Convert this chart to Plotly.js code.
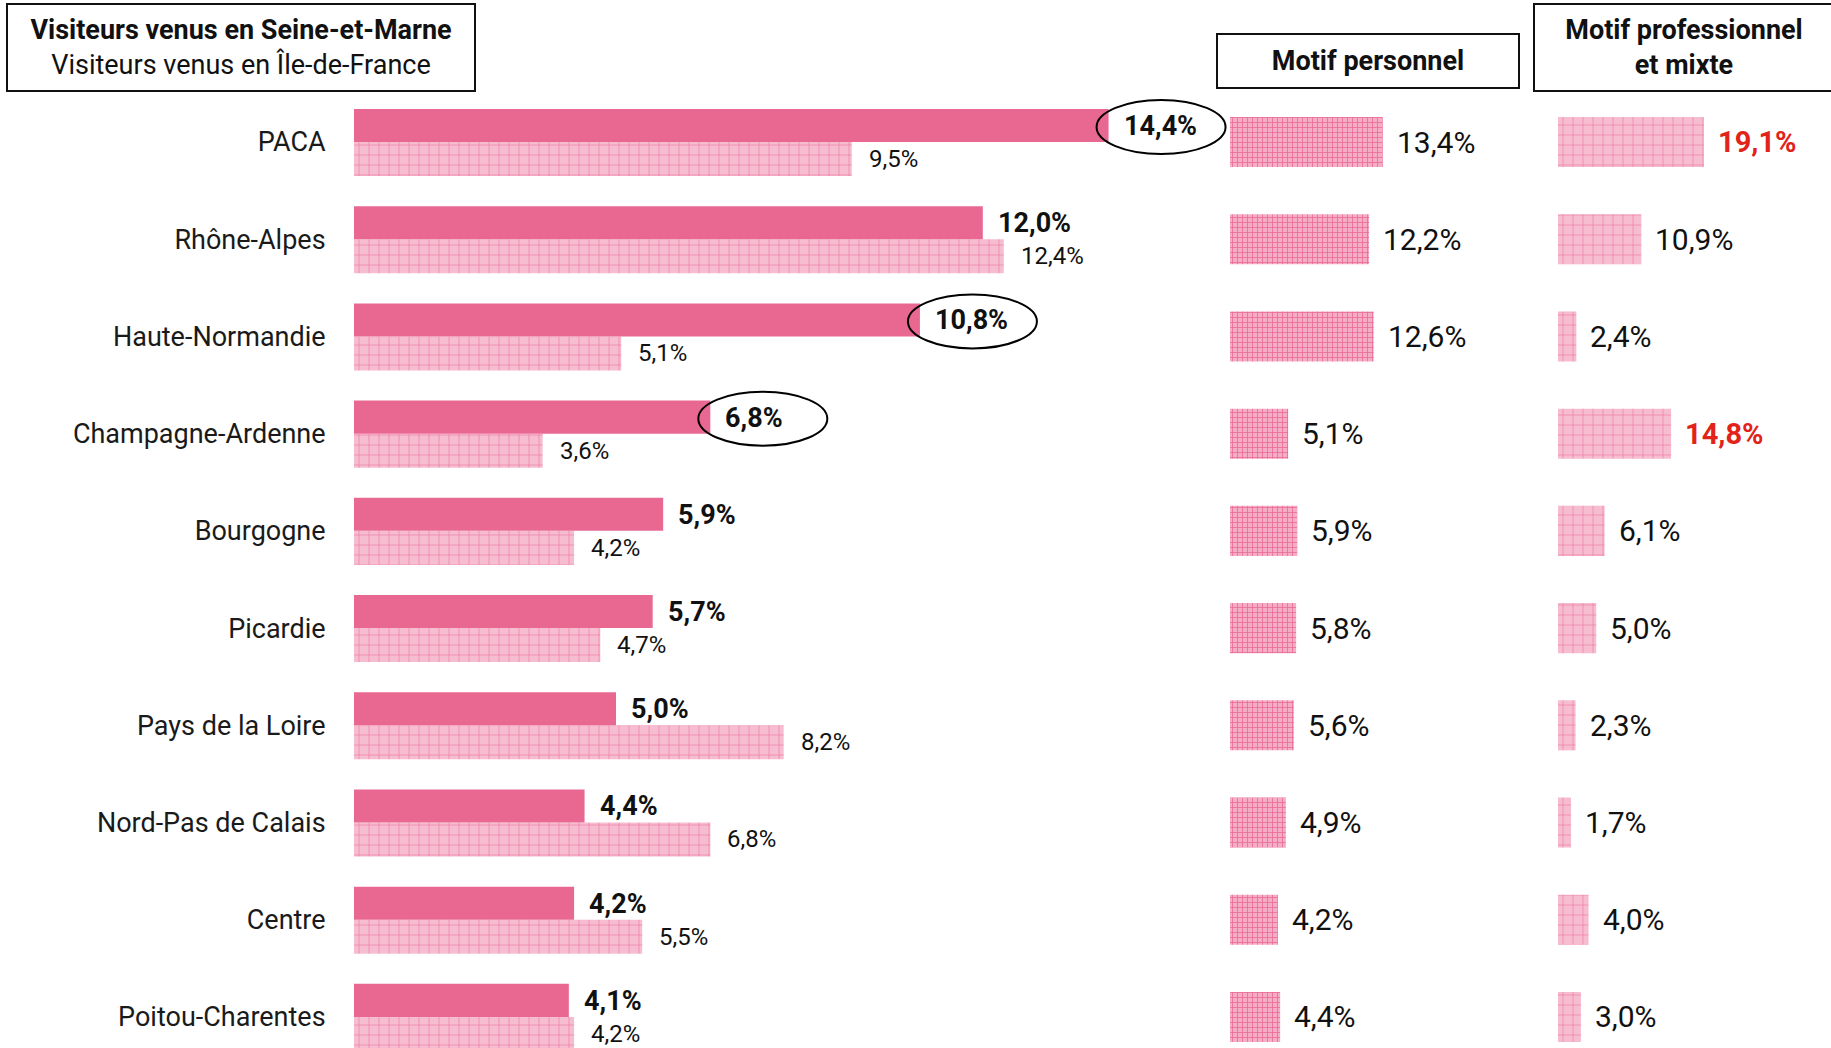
<!DOCTYPE html>
<html>
<head>
<meta charset="utf-8">
<script src="https://cdn.plot.ly/plotly-3.0.1.min.js"></script>
<style>
  html, body { margin: 0; padding: 0; background: #fff; }
  #myDiv { width: 1831px; height: 1048px; }
</style>
</head>
<body>
<div id="myDiv"></div>
<script>
// regions, top to bottom
var regions = ['PACA', 'Rhône-Alpes', 'Haute-Normandie', 'Champagne-Ardenne', 'Bourgogne',
  'Picardie', 'Pays de la Loire', 'Nord-Pas de Calais', 'Centre', 'Poitou-Charentes'];

// share of visitors (%)
var seineEtMarne = [14.4, 12.0, 10.8, 6.8, 5.9, 5.7, 5.0, 4.4, 4.2, 4.1];
var ileDeFrance = [9.5, 12.4, 5.1, 3.6, 4.2, 4.7, 8.2, 6.8, 5.5, 4.2];
var motifPersonnel = [13.4, 12.2, 12.6, 5.1, 5.9, 5.8, 5.6, 4.9, 4.2, 4.4];
var motifPro = [19.1, 10.9, 2.4, 14.8, 6.1, 5.0, 2.3, 1.7, 4.0, 3.0];

// regions that get an ellipse / a red label
var circled = ['PACA', 'Haute-Normandie', 'Champagne-Ardenne'];
var redPro = ['PACA', 'Champagne-Ardenne'];

var pink = 'rgb(232, 104, 146)';
var lightPink = 'rgb(246, 188, 208)';
var fontFam = 'Roboto, "DejaVu Sans", sans-serif';

function pct(v) {
  return v.toFixed(1).replace('.', ',') + '%';
}

// Seine-et-Marne, solid bar on top half of the row
var traceSM = {
  type: 'bar', orientation: 'h',
  x: seineEtMarne, y: regions,
  xaxis: 'x', yaxis: 'y',
  offset: -0.34, width: 0.34,
  marker: { color: pink, line: { width: 0 } },
  hoverinfo: 'skip'
};

// Ile-de-France, grid pattern on bottom half
var traceIDF = {
  type: 'bar', orientation: 'h',
  x: ileDeFrance, y: regions,
  xaxis: 'x', yaxis: 'y',
  offset: 0, width: 0.35,
  marker: {
    color: lightPink,
    line: { width: 0 },
    pattern: { shape: '+', bgcolor: lightPink, fgcolor: 'rgb(236, 120, 160)', size: 10, solidity: 0.12 }
  },
  hoverinfo: 'skip'
};

var tracePerso = {
  type: 'bar', orientation: 'h',
  x: motifPersonnel, y: regions,
  xaxis: 'x2', yaxis: 'y',
  offset: -0.257, width: 0.515,
  marker: {
    color: 'rgb(243, 160, 190)',
    line: { width: 0 },
    pattern: { shape: '+', bgcolor: 'rgb(245, 172, 198)', fgcolor: 'rgb(234, 108, 150)', size: 5, solidity: 0.3 }
  },
  hoverinfo: 'skip'
};

var tracePro = {
  type: 'bar', orientation: 'h',
  x: motifPro, y: regions,
  xaxis: 'x3', yaxis: 'y',
  offset: -0.257, width: 0.515,
  marker: {
    color: lightPink,
    line: { width: 0 },
    pattern: { shape: '+', bgcolor: lightPink, fgcolor: 'rgb(236, 120, 160)', size: 10, solidity: 0.12 }
  },
  hoverinfo: 'skip'
};

var annotations = [];
var shapes = [];

regions.forEach(function(r, i) {
  annotations.push({
    x: seineEtMarne[i], y: r, xref: 'x', yref: 'y',
    text: '<b>' + pct(seineEtMarne[i]) + '</b>',
    showarrow: false, xanchor: 'left', yanchor: 'middle',
    xshift: 13, yshift: 16,
    font: { family: fontFam, size: 27, color: '#111' }
  });
  annotations.push({
    x: ileDeFrance[i], y: r, xref: 'x', yref: 'y',
    text: pct(ileDeFrance[i]),
    showarrow: false, xanchor: 'left', yanchor: 'middle',
    xshift: 15, yshift: -17,
    font: { family: fontFam, size: 24, color: '#111' }
  });
  annotations.push({
    x: motifPersonnel[i], y: r, xref: 'x2', yref: 'y',
    text: pct(motifPersonnel[i]),
    showarrow: false, xanchor: 'left', yanchor: 'middle',
    xshift: 12, yshift: 0,
    font: { family: fontFam, size: 30, color: '#111' }
  });
  var red = redPro.indexOf(r) >= 0;
  annotations.push({
    x: motifPro[i], y: r, xref: 'x3', yref: 'y',
    text: red ? '<b>' + pct(motifPro[i]) + '</b>' : pct(motifPro[i]),
    showarrow: false, xanchor: 'left', yanchor: 'middle',
    xshift: 12, yshift: 0,
    font: { family: fontFam, size: red ? 29 : 30, color: red ? 'rgb(226, 35, 26)' : '#111' }
  });

  if (circled.indexOf(r) >= 0) {
    shapes.push({
      type: 'circle', xref: 'x', yref: 'y',
      xsizemode: 'pixel', ysizemode: 'pixel',
      xanchor: seineEtMarne[i], yanchor: r,
      x0: -12, x1: 117, y0: -12, y1: 42,
      line: { color: '#000', width: 2 },
      fillcolor: 'rgba(0,0,0,0)'
    });
  }
});

// header boxes
var W = 1831, H = 1048;
annotations.push({
  xref: 'paper', yref: 'paper', x: 241 / W, y: 1 - 47 / H,
  xanchor: 'center', yanchor: 'middle',
  text: '<b>Visiteurs venus en Seine-et-Marne</b><br>Visiteurs venus en Île-de-France',
  showarrow: false, width: 466, height: 85, borderpad: 0,
  bordercolor: '#111', borderwidth: 2, bgcolor: '#fff',
  font: { family: fontFam, size: 27, color: '#111' }
});
annotations.push({
  xref: 'paper', yref: 'paper', x: 1368 / W, y: 1 - 61 / H,
  xanchor: 'center', yanchor: 'middle',
  text: '<b>Motif personnel</b>',
  showarrow: false, width: 300, height: 52, borderpad: 0,
  bordercolor: '#111', borderwidth: 2, bgcolor: '#fff',
  font: { family: fontFam, size: 27, color: '#111' }
});
annotations.push({
  xref: 'paper', yref: 'paper', x: 1684 / W, y: 1 - 47 / H,
  xanchor: 'center', yanchor: 'middle',
  text: '<b>Motif professionnel<br>et mixte</b>',
  showarrow: false, width: 298, height: 85, borderpad: 0,
  bordercolor: '#111', borderwidth: 2, bgcolor: '#fff',
  font: { family: fontFam, size: 27, color: '#111' }
});

var hiddenX = { visible: false, fixedrange: true };

var layout = {
  width: W, height: H,
  margin: { l: 0, r: 0, t: 0, b: 0, pad: 0 },
  paper_bgcolor: '#fff', plot_bgcolor: 'rgba(0,0,0,0)',
  showlegend: false,
  barmode: 'overlay',
  xaxis: Object.assign({ domain: [354 / W, 1229 / W], range: [0, 875 / 52.4] }, hiddenX),
  xaxis2: Object.assign({ domain: [1230 / W, 1500 / W], range: [0, 270 / 11.4], anchor: 'y' }, hiddenX),
  xaxis3: Object.assign({ domain: [1558 / W, 1], range: [0, 273 / 7.64], anchor: 'y' }, hiddenX),
  yaxis: {
    type: 'category',
    range: [9.32, -1.461],
    anchor: 'x',
    showgrid: false, zeroline: false, showline: false,
    ticks: 'outside', ticklen: 22, tickcolor: 'rgba(0,0,0,0)',
    tickfont: { family: fontFam, size: 27, color: '#1a1a1a' },
    fixedrange: true
  },
  annotations: annotations,
  shapes: shapes
};

Plotly.newPlot('myDiv', [traceIDF, traceSM, tracePerso, tracePro], layout, { displayModeBar: false, staticPlot: true });
</script>
</body>
</html>
